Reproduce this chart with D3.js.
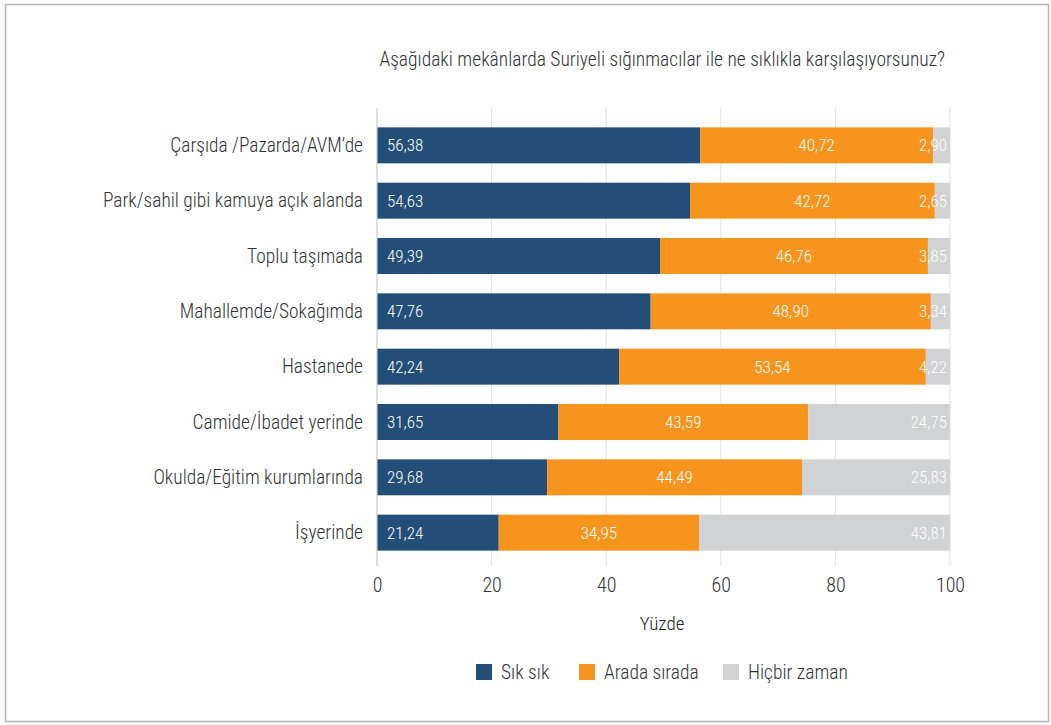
<!DOCTYPE html>
<html><head><meta charset="utf-8">
<script src="https://cdn.jsdelivr.net/npm/d3@7"></script>
<style>
html,body{margin:0;padding:0;background:#fff;}
svg{display:block;}
svg text{font-family:"Liberation Sans Narrow","Roboto Condensed","DejaVu Sans Condensed",Roboto,sans-serif;font-weight:300;}
</style></head><body>
<svg id="c" width="1051" height="725"></svg>
<script>
const categories = ["Çarşıda /Pazarda/AVM’de","Park/sahil gibi kamuya açık alanda","Toplu taşımada","Mahallemde/Sokağımda","Hastanede","Camide/İbadet yerinde","Okulda/Eğitim kurumlarında","İşyerinde"];
const sikSik = [56.38,54.63,49.39,47.76,42.24,31.65,29.68,21.24];
const aradaSirada = [40.72,42.72,46.76,48.90,53.54,43.59,44.49,34.95];
const hicbirZaman = [2.90,2.65,3.85,3.34,4.22,24.75,25.83,43.81];
const seriesNames = ["Sık sık","Arada sırada","Hiçbir zaman"];
const colors = ["#234e78","#f7941d","#d1d2d4"];
const xTicks = [0,20,40,60,80,100];
const title = "Aşağıdaki mekânlarda Suriyeli sığınmacılar ile ne sıklıkla karşılaşıyorsunuz?";
const xTitle = "Yüzde";

const svg = d3.select("#c");
svg.append("rect").attr("x",5.5).attr("y",4.5).attr("width",1043).attr("height",717)
  .attr("fill","#fff").attr("stroke","#b4b4b4").attr("stroke-width",1.5);

const x = d3.scaleLinear().domain([0,100]).range([377,950]);
const y = d3.scaleBand().domain(categories).range([108,570]).padding(0.35);

// gridlines
svg.append("g").selectAll("line").data(xTicks.slice(1)).join("line")
  .attr("x1",d=>x(d)).attr("x2",d=>x(d)).attr("y1",108).attr("y2",566)
  .attr("stroke","#e3e3e3").attr("stroke-width",1);

const rows = categories.map((c,i)=>({cat:c, vals:[sikSik[i],aradaSirada[i],hicbirZaman[i]]}));
const segs = [];
rows.forEach(r=>{let acc=0; r.vals.forEach((v,k)=>{segs.push({cat:r.cat,k,v,x0:acc,x1:acc+v}); acc+=v;});});

svg.append("g").selectAll("rect").data(segs).join("rect")
  .attr("x",d=>x(d.x0)).attr("width",d=>x(d.x1)-x(d.x0))
  .attr("y",d=>y(d.cat)).attr("height",y.bandwidth())
  .attr("fill",d=>colors[d.k]);

const fmt = v=>v.toFixed(2).replace(".",",");
svg.append("g").selectAll("text").data(segs).join("text")
  .attr("x",d=> d.k===0 ? x(d.x0)+10 : d.k===1 ? (x(d.x0)+x(d.x1))/2 : x(d.x1)-3)
  .attr("y",d=>y(d.cat)+y.bandwidth()/2)
  .attr("dy","0.35em")
  .attr("text-anchor",d=> d.k===0?"start": d.k===1?"middle":"end")
  .attr("fill","#fff").attr("font-size",17)
  .text(d=>fmt(d.v));

// axis baseline
svg.append("line").attr("x1",x(0)).attr("x2",x(0)).attr("y1",108).attr("y2",566)
  .attr("stroke","#c8c8c8").attr("stroke-width",1.2);

// x axis
const xa = svg.append("g").attr("transform","translate(0,566)")
  .call(d3.axisBottom(x).tickValues(xTicks).tickSize(0).tickPadding(12));
xa.attr("font-family",null);
xa.select(".domain").remove();
xa.selectAll("text").attr("font-size",20).attr("fill","#333");

// category labels
svg.append("g").selectAll("text").data(categories).join("text")
  .attr("x",363).attr("y",d=>y(d)+y.bandwidth()/2).attr("dy","0.35em")
  .attr("text-anchor","end").attr("font-size",19.4).attr("fill","#333").text(d=>d);

svg.append("text").attr("x",945).attr("y",66).attr("text-anchor","end")
  .attr("font-size",19.5).attr("fill","#333").text(title);

svg.append("text").attr("x",662).attr("y",630).attr("text-anchor","middle")
  .attr("font-size",19).attr("fill","#222").text(xTitle);

// legend
const legX = [476,579,723];
const lg = svg.append("g").selectAll("g").data(seriesNames).join("g")
  .attr("transform",(d,i)=>`translate(${legX[i]},664)`);
lg.append("rect").attr("width",16).attr("height",16).attr("fill",(d,i)=>colors[i]);
lg.append("text").attr("x",25).attr("y",8).attr("dy","0.35em").attr("font-size",19.5).attr("fill","#333").text(d=>d);
</script>
</body></html>
